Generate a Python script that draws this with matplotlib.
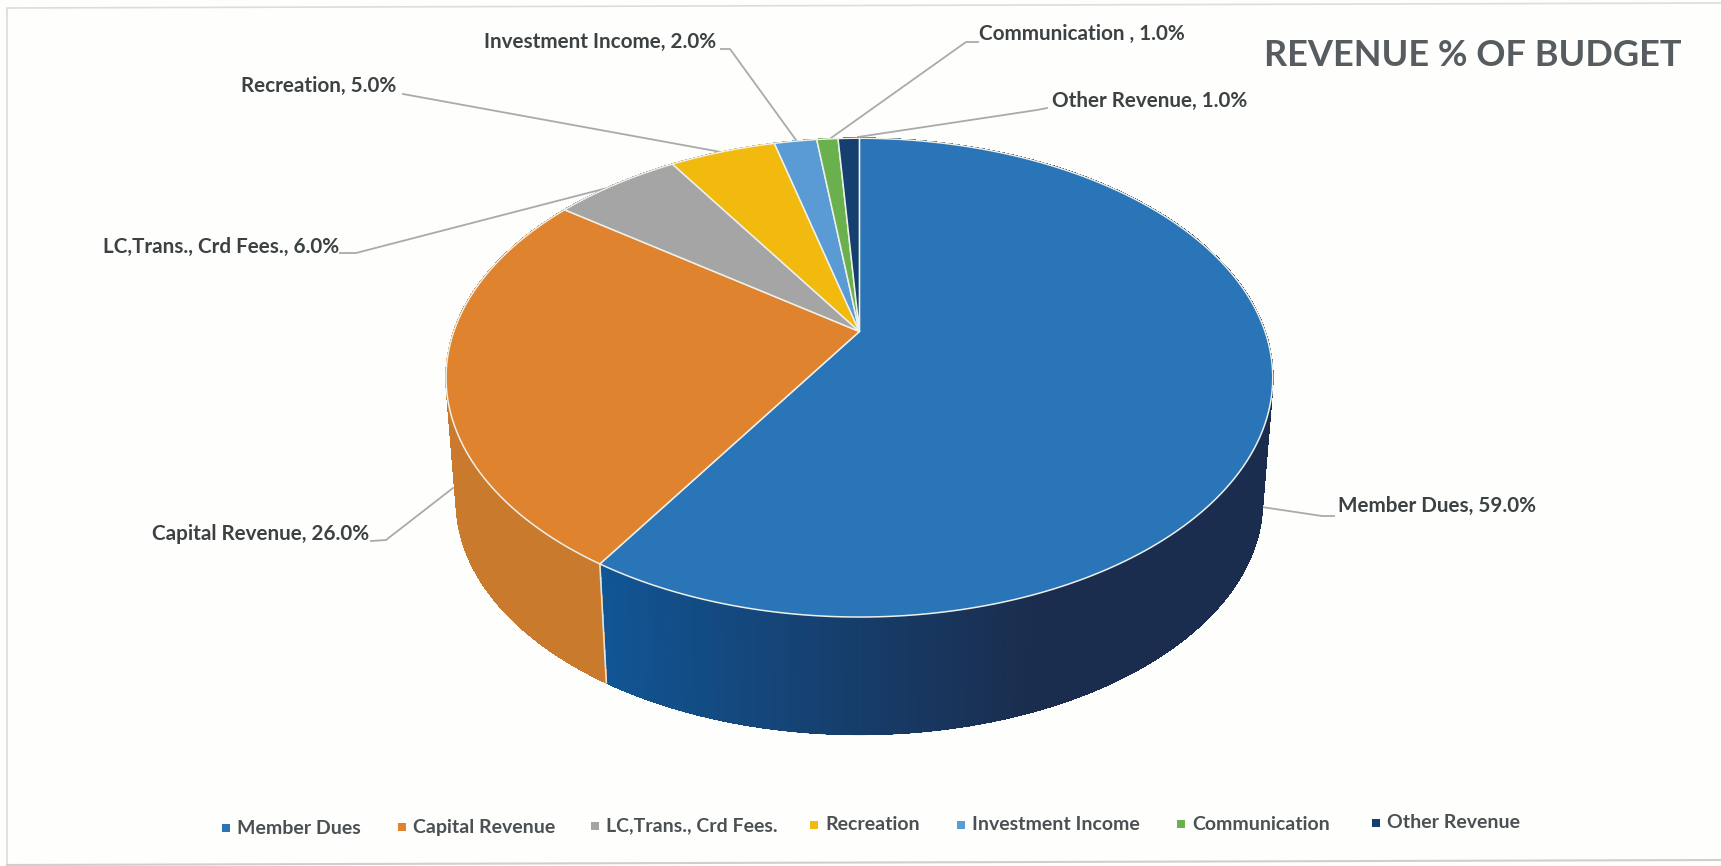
import numpy as np
import matplotlib
matplotlib.use("Agg")
import matplotlib.pyplot as plt
from matplotlib.collections import PolyCollection, LineCollection
from matplotlib.colors import to_rgb

categories = ["Member Dues", "Capital Revenue", "LC,Trans., Crd Fees.", "Recreation",
	"Investment Income", "Communication", "Other Revenue"]
label_names = ["Member Dues", "Capital Revenue", "LC,Trans., Crd Fees.", "Recreation",
	"Investment Income", "Communication ", "Other Revenue"]
values = [59.0, 26.0, 6.0, 5.0, 2.0, 1.0, 1.0]
colors = ["#2a74b8", "#e0832f", "#a5a5a5", "#f2b90f", "#5b9bd5", "#6ab04c", "#143f6e"]
side_left = ["#115696", "#c97a2c", "#8a8a8a", "#cc9c0c", "#4c82b2", "#58933f", "#10345c"]
side_right = ["#1a2d4e", "#c07428", "#8a8a8a", "#cc9c0c", "#4c82b2", "#58933f", "#10345c"]

# pixel layout of the reference
W, H = 1721, 866
CX, APEX_Y = 859.4, 331.5
RX, RY, PERSP = 405.6, 230.5, 0.1927
LOWER_Y, LOWER_SCALE = 456.0, 0.975

# label anchor: left x, centre y
label_pos = [(1338, 506), (152, 534), (103, 247), (241, 86), (484, 42), (979, 34), (1052, 101)]
leaders = [
	[(1262, 507), (1322, 516), (1334, 516)],
	[(453, 488), (386, 540), (371, 541)],
	[(611, 187), (356, 253), (340, 253)],
	[(721, 152), (403, 94)],
	[(796, 140), (730, 49), (721, 49)],
	[(831, 138), (966, 42), (978, 42)],
	[(858, 137), (1037, 110), (1047, 108)],
]
legend_x = [226, 402, 595, 814, 961, 1181, 1376]
legend_y = [828, 827, 826, 825, 825, 824, 823]

def project(theta, lower=False):
	u = np.sin(theta)
	v = np.cos(theta)
	w = 1 + PERSP * v
	if lower:
		return CX + LOWER_SCALE * RX * u / w, LOWER_Y - LOWER_SCALE * RY * v / w
	return CX + RX * u / w, APEX_Y - RY * v / w

plt.rcParams["font.family"] = ["Lato", "DejaVu Sans"]

fig = plt.figure(figsize=(W / 100, H / 100), dpi=100, facecolor="#fefefc")
ax = fig.add_axes([0, 0, 1, 1])
ax.set_xlim(0, W)
ax.set_ylim(H, 0)
ax.axis("off")

# scan border
ax.plot([7, 7, 1721], [866, 8, 3], color="#dcdcdc", lw=1.2)
ax.plot([7, 1721], [865, 860], color="#cfcfcf", lw=1.5)

edges = np.cumsum([0] + values) / sum(values) * 2 * np.pi

# side wall, the top face covers the hidden part
for i in range(len(values)):
	th = np.linspace(edges[i], edges[i + 1], max(int(values[i] * 12), 8))
	ux, uy = project(th)
	lx, ly = project(th, lower=True)
	quads = []
	lows = []
	cols = []
	c0 = np.array(to_rgb(side_left[i]))
	c1 = np.array(to_rgb(side_right[i]))
	for j in range(len(th) - 1):
		quads.append([(ux[j], uy[j]), (ux[j + 1], uy[j + 1]), (lx[j + 1], ly[j + 1]), (lx[j], ly[j])])
		lows.append([(lx[j], ly[j]), (lx[j + 1], ly[j + 1])])
		t = np.clip((np.sin(th[j]) + 0.55) / 0.9, 0, 1)
		cols.append(tuple(c0 * (1 - t) + c1 * t))
	ax.add_collection(PolyCollection(quads, facecolors=cols, edgecolors=cols, linewidths=0.6,
		antialiaseds=False, zorder=2))
	ax.add_collection(LineCollection(lows, colors=cols, linewidths=1.0, zorder=2))

# seam between the two visible side faces
jx0, jy0 = project(edges[1])
jx1, jy1 = project(edges[1], lower=True)
ax.plot([jx0, jx1], [jy0, jy1], color="#dfe3e3", lw=1.2, zorder=3)

# top face
for i in range(len(values)):
	th = np.linspace(edges[i], edges[i + 1], max(int(values[i] * 12), 8))
	x, y = project(th)
	ax.fill(np.r_[CX, x], np.r_[APEX_Y, y], facecolor=colors[i], edgecolor="#eef0ea", lw=1.1, zorder=4, joinstyle="round")

# leader lines
for pts in leaders:
	xs, ys = zip(*pts)
	ax.plot(xs, ys, color="#a9abab", lw=1.3, zorder=1)

# data labels
for i in range(len(values)):
	ax.text(label_pos[i][0], label_pos[i][1], f"{label_names[i]}, {values[i]:.1f}%", fontsize=14.9,
		fontweight="bold", color="#3c4244", ha="left", va="center", zorder=6)

ax.text(1681, 55, "REVENUE % OF BUDGET", fontsize=26, fontweight="bold", color="#565c60",
	ha="right", va="center", zorder=6)

# legend
for i in range(len(categories)):
	ax.scatter(legend_x[i], legend_y[i], marker="s", s=32, color=colors[i], linewidths=0, zorder=6)
	ax.text(legend_x[i] + 11, legend_y[i], categories[i], fontsize=14, fontweight="bold",
		color="#4a5054", ha="left", va="center", zorder=6)

fig.savefig("out.png", dpi=100, facecolor=fig.get_facecolor())
